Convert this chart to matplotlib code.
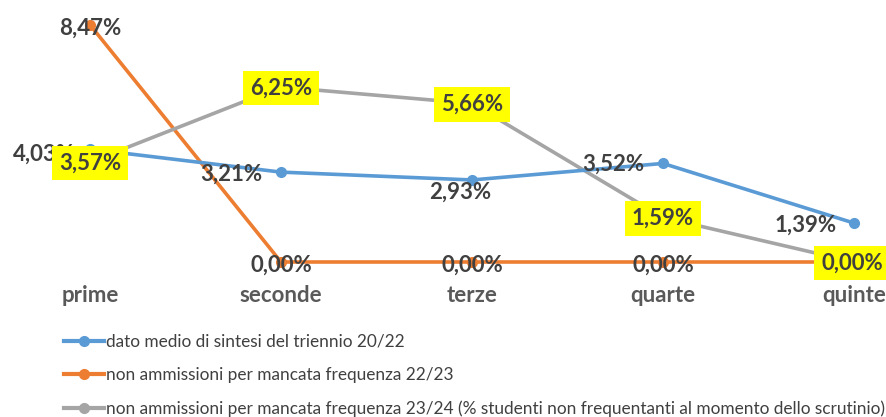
import matplotlib.pyplot as plt

categorie = ['prime', 'seconde', 'terze', 'quarte', 'quinte']
triennio = [4.03, 3.21, 2.93, 3.52, 1.39]
freq_2223 = [8.47, 0.00, 0.00, 0.00, 0.00]
freq_2324 = [3.57, 6.25, 5.66, 1.59, 0.00]
nomi = ['dato medio di sintesi del triennio 20/22',
        'non ammissioni per mancata frequenza 22/23',
        'non ammissioni per mancata frequenza 23/24 (% studenti non frequentanti al momento dello scrutinio)']

blu, arancio, grigio = '#5B9BD5', '#ED7D31', '#A5A5A5'
testo = '#404040'

W, H = 886, 417
fig = plt.figure(figsize=(W / 100, H / 100), dpi=100)
# axes in pixel: da x=0 a 886, da y=0 (alto) a y=290
ax = fig.add_axes([0, 1 - 290 / H, 1, 290 / H])
x = list(range(len(categorie)))

ax.plot(x, triennio, color=blu, lw=2.6, marker='o', ms=7, label=nomi[0], clip_on=False, zorder=3)
ax.plot(x, freq_2223, color=arancio, lw=2.6, marker='o', ms=7, label=nomi[1], clip_on=False, zorder=2)
ax.plot(x, freq_2324, color=grigio, lw=2.6, marker='o', ms=7, label=nomi[2], clip_on=False, zorder=2)

ax.set_xlim(-90 / 191, (886 - 90) / 191)
ax.set_ylim(-1.0, 262 / 28)
ax.axis('off')

def pct(v):
    return f'{v:.2f}%'.replace('.', ',')

font = dict(family='Lato', weight='bold', fontsize=16, color=testo)

# etichette serie blu
off_blu = [(-46, -5), (-50, -2), (-12, -12), (-50, -1), (-48, -2)]
for i, v in enumerate(triennio):
    ax.annotate(pct(v), (i, v), xytext=off_blu[i], textcoords='offset pixels',
                ha='center', va='center', zorder=5, **font)

# etichette serie arancio
for i, v in enumerate(freq_2223):
    if i == len(x) - 1:
        continue
    ax.annotate(pct(v), (i, v), xytext=(0, -3), textcoords='offset pixels',
                ha='center', va='center', zorder=5, **font)

# etichette serie grigia con riquadro giallo
for i, v in enumerate(freq_2324):
    ax.annotate(pct(v), (i, v), xytext=(-2 if i == 4 else 0, -1), textcoords='offset pixels',
                ha='center', va='center', zorder=6,
                bbox=dict(boxstyle='square,pad=0.3', fc='#FFFF00', ec='none'), **font)

# etichette categorie
for i, c in enumerate(categorie):
    ax.annotate(c, (i, 0), xytext=(0, -34), textcoords='offset pixels',
                ha='center', va='center', family='Lato', weight='bold',
                fontsize=16, color='#595959')

leg = fig.legend(loc='upper left', bbox_to_anchor=(57 / W, 1 - 327 / H), frameon=False,
                 handlelength=2.3, handletextpad=0.12, labelspacing=1.0,
                 prop=dict(family='Lato', size=12.4), labelcolor=testo, borderaxespad=0)
for ln in leg.get_lines():
    ln.set_linewidth(3)

fig.savefig('out.png', dpi=100)
